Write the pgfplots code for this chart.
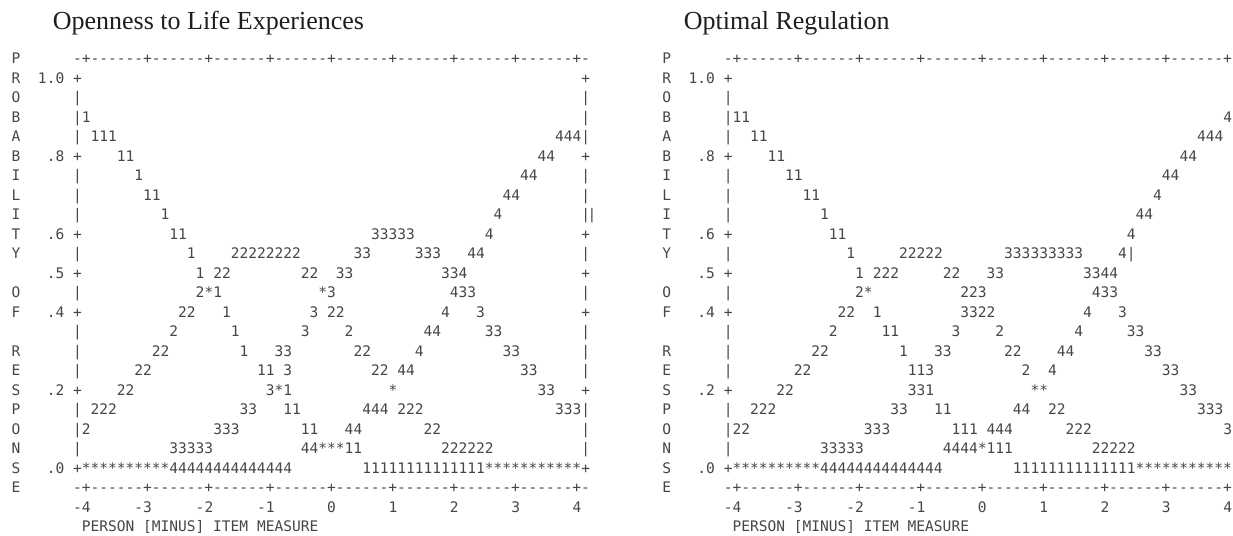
\documentclass[border=0pt]{standalone}
\usepackage{fontspec}
\setmainfont{Liberation Serif}
\setmonofont{DejaVu Sans Mono}
\usepackage{pgfplots}
\usepackage{pgfplotstable}
\pgfplotsset{compat=1.18}
\definecolor{ink}{HTML}{464646}
\definecolor{titleink}{HTML}{1E1E1E}

% c = column of first character (7 columns per logit, col 0 = -4), y = probability row
\pgfplotstableread[col sep=comma]{
c,y,s
-8,1.05,P
-1,1.05,-+------+------+------+------+------+------+------+------+-
-8,1.0,R
-5,1.0,1.0
-1,1.0,+
57,1.0,+
-8,0.95,O
-1,0.95,|
57,0.95,|
-8,0.90,B
-1,0.90,|1
57,0.90,|
-8,0.85,A
-1,0.85,|
1,0.85,111
54,0.85,444|
-8,0.80,B
-4,0.80,.8
-1,0.80,+
4,0.80,11
52,0.80,44
57,0.80,+
-8,0.75,I
-1,0.75,|
6,0.75,1
50,0.75,44
57,0.75,|
-8,0.70,L
-1,0.70,|
7,0.70,11
48,0.70,44
57,0.70,|
-8,0.65,I
-1,0.65,|
9,0.65,1
47,0.65,4
57,0.65,|
57.7,0.65,|
-8,0.60,T
-4,0.60,.6
-1,0.60,+
10,0.60,11
33,0.60,33333
46,0.60,4
57,0.60,+
-8,0.55,Y
-1,0.55,|
12,0.55,1
17,0.55,22222222
31,0.55,33
38,0.55,333
44,0.55,44
57,0.55,|
-4,0.50,.5
-1,0.50,+
13,0.50,1
15,0.50,22
25,0.50,22
29,0.50,33
41,0.50,334
57,0.50,+
-8,0.45,O
-1,0.45,|
13,0.45,2*1
27,0.45,*3
42,0.45,433
57,0.45,|
-8,0.40,F
-4,0.40,.4
-1,0.40,+
11,0.40,22
16,0.40,1
26,0.40,3
28,0.40,22
41,0.40,4
45,0.40,3
57,0.40,+
-1,0.35,|
10,0.35,2
17,0.35,1
25,0.35,3
30,0.35,2
39,0.35,44
46,0.35,33
57,0.35,|
-8,0.30,R
-1,0.30,|
8,0.30,22
18,0.30,1
22,0.30,33
31,0.30,22
38,0.30,4
48,0.30,33
57,0.30,|
-8,0.25,E
-1,0.25,|
6,0.25,22
20,0.25,11
23,0.25,3
33,0.25,22
36,0.25,44
50,0.25,33
57,0.25,|
-8,0.20,S
-4,0.20,.2
-1,0.20,+
4,0.20,22
21,0.20,3*1
35,0.20,*
52,0.20,33
57,0.20,+
-8,0.15,P
-1,0.15,|
1,0.15,222
18,0.15,33
23,0.15,11
32,0.15,444
36,0.15,222
54,0.15,333|
-8,0.10,O
-1,0.10,|2
15,0.10,333
25,0.10,11
30,0.10,44
39,0.10,22
57,0.10,|
-8,0.05,N
-1,0.05,|
10,0.05,33333
25,0.05,44***11
41,0.05,222222
57,0.05,|
-8,0.0,S
-4,0.0,.0
-1,0.0,+**********44444444444444
32,0.0,11111111111111***********+
-8,-0.05,E
-1,-0.05,-+------+------+------+------+------+------+------+------+-
-1,-0.10,-4
6,-0.10,-3
13,-0.10,-2
20,-0.10,-1
28,-0.10,0
35,-0.10,1
42,-0.10,2
49,-0.10,3
56,-0.10,4
0,-0.15,PERSON [MINUS] ITEM MEASURE
}\openness

% the right-hand frame column (col 57) of this panel lies beyond the picture's edge
\pgfplotstableread[col sep=comma]{
c,y,s
-8,1.05,P
-1,1.05,-+------+------+------+------+------+------+------+------+
-8,1.0,R
-5,1.0,1.0
-1,1.0,+
-8,0.95,O
-1,0.95,|
-8,0.90,B
-1,0.90,|11
56,0.90,4
-8,0.85,A
-1,0.85,|
2,0.85,11
53,0.85,444
-8,0.80,B
-4,0.80,.8
-1,0.80,+
4,0.80,11
51,0.80,44
-8,0.75,I
-1,0.75,|
6,0.75,11
49,0.75,44
-8,0.70,L
-1,0.70,|
8,0.70,11
48,0.70,4
-8,0.65,I
-1,0.65,|
10,0.65,1
46,0.65,44
-8,0.60,T
-4,0.60,.6
-1,0.60,+
11,0.60,11
45,0.60,4
-8,0.55,Y
-1,0.55,|
13,0.55,1
19,0.55,22222
31,0.55,333333333
44,0.55,4|
-4,0.50,.5
-1,0.50,+
14,0.50,1
16,0.50,222
24,0.50,22
29,0.50,33
40,0.50,3344
-8,0.45,O
-1,0.45,|
14,0.45,2*
26,0.45,223
41,0.45,433
-8,0.40,F
-4,0.40,.4
-1,0.40,+
12,0.40,22
16,0.40,1
26,0.40,3322
40,0.40,4
44,0.40,3
-1,0.35,|
11,0.35,2
17,0.35,11
25,0.35,3
30,0.35,2
39,0.35,4
45,0.35,33
-8,0.30,R
-1,0.30,|
9,0.30,22
19,0.30,1
23,0.30,33
31,0.30,22
37,0.30,44
47,0.30,33
-8,0.25,E
-1,0.25,|
7,0.25,22
20,0.25,113
33,0.25,2
36,0.25,4
49,0.25,33
-8,0.20,S
-4,0.20,.2
-1,0.20,+
5,0.20,22
20,0.20,331
34,0.20,**
51,0.20,33
-8,0.15,P
-1,0.15,|
2,0.15,222
18,0.15,33
23,0.15,11
32,0.15,44
36,0.15,22
53,0.15,333
-8,0.10,O
-1,0.10,|22
15,0.10,333
25,0.10,111
29,0.10,444
38,0.10,222
56,0.10,3
-8,0.05,N
-1,0.05,|
10,0.05,33333
24,0.05,4444*111
41,0.05,22222
-8,0.0,S
-4,0.0,.0
-1,0.0,+**********44444444444444
32,0.0,11111111111111***********
-8,-0.05,E
-1,-0.05,-+------+------+------+------+------+------+------+------+
-1,-0.10,-4
6,-0.10,-3
13,-0.10,-2
20,-0.10,-1
28,-0.10,0
35,-0.10,1
42,-0.10,2
49,-0.10,3
56,-0.10,4
0,-0.15,PERSON [MINUS] ITEM MEASURE
}\regulation

\pgfplotsset{
  asciichart/.style={
    hide axis, clip=false,
    x=61.35bp, y=390bp,
    xmin=-4, xmax=4, ymin=0, ymax=1,
    anchor=south west,
    title style={anchor=base west, inner sep=0pt,
      font=\fontsize{26bp}{30bp}\selectfont, text=titleink},
  },
  asciitext/.style={
    draw=none, mark=none,
    nodes near coords, point meta=explicit symbolic,
    nodes near coords style={anchor=base west, inner sep=0pt,
      xshift=-4.381bp, yshift=-5.1bp, text=ink,
      font=\fontsize{14.55bp}{17bp}\selectfont\ttfamily},
  },
}

\begin{document}
\begin{tikzpicture}
\useasboundingbox (0,0) rectangle (1233bp,536bp);

\begin{axis}[asciichart, at={(86bp,67.7bp)},
  title={Openness to Life Experiences},
  title style={at={(-0.068,1.111)}}]
\addplot[asciitext] table[x expr=\thisrow{c}/7-4, y=y, meta=s]{\openness};
\end{axis}

\begin{axis}[asciichart, at={(736.7bp,67.7bp)},
  title={Optimal Regulation},
  title style={at={(-0.108,1.111)}}]
\addplot[asciitext] table[x expr=\thisrow{c}/7-4, y=y, meta=s]{\regulation};
\end{axis}
\end{tikzpicture}
\end{document}
